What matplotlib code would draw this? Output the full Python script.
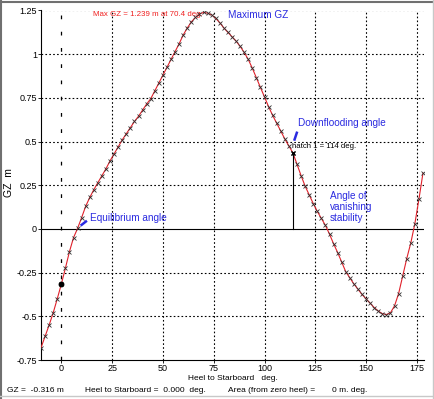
import matplotlib
matplotlib.use("Agg")
import matplotlib.pyplot as plt
from matplotlib.lines import Line2D

plt.rcParams['font.family'] = ['Liberation Sans', 'DejaVu Sans']

# GZ curve (heel in deg, GZ in m)
heel = [-10, -8, -6, -4, -2, 0, 2, 4, 6, 8, 10, 12, 14, 16, 18, 20, 22, 24, 26, 28,
        30, 32, 34, 36, 38, 40, 42, 44, 46, 48, 50, 52, 54, 56, 58, 60, 62, 64, 66, 68,
        70, 72, 74, 76, 78, 80, 82, 84, 86, 88, 90, 92, 94, 96, 98, 100, 102, 104, 106, 108,
        110, 112, 114, 116, 118, 120, 122, 124, 126, 128, 130, 132, 134, 136, 138, 140, 142, 144, 146, 148,
        150, 152, 154, 156, 158, 160, 162, 164, 166, 168, 170, 172, 174, 176, 178]
gz = [-0.68, -0.615, -0.55, -0.48, -0.40, -0.316, -0.225, -0.13, -0.05, 0.003,
      0.065, 0.13, 0.18, 0.225, 0.265, 0.305, 0.345, 0.39, 0.43, 0.47,
      0.51, 0.545, 0.58, 0.615, 0.645, 0.68, 0.715, 0.745, 0.79, 0.835,
      0.88, 0.925, 0.97, 1.015, 1.06, 1.11, 1.15, 1.185, 1.21, 1.23,
      1.239, 1.235, 1.225, 1.205, 1.18, 1.15, 1.125, 1.10, 1.075, 1.045,
      1.01, 0.97, 0.92, 0.865, 0.81, 0.755, 0.70, 0.65, 0.605, 0.56,
      0.515, 0.475, 0.435, 0.37, 0.305, 0.245, 0.195, 0.145, 0.10, 0.06,
      0.02, -0.03, -0.085, -0.135, -0.19, -0.245, -0.28, -0.315, -0.345, -0.375,
      -0.40, -0.425, -0.45, -0.47, -0.485, -0.49, -0.48, -0.44, -0.37, -0.27,
      -0.17, -0.08, 0.03, 0.17, 0.32]

flood_angle = 114
flood_gz = 0.435
eq_heel = 0
eq_gz = -0.316

xticks = [0, 25, 50, 75, 100, 125, 150, 175]
yticks = [-0.75, -0.5, -0.25, 0, 0.25, 0.5, 0.75, 1, 1.25]
ytick_labels = ["-0.75", "-0.5", "-0.25", "0", "0.25", "0.5", "0.75", "1", "1.25"]

W, H = 435, 399
fig = plt.figure(figsize=(W / 100, H / 100), dpi=100)
ax = fig.add_axes([41 / W, 1 - 360 / H, 383 / W, (360 - 10.5) / H])

ax.set_xlim(-10, 178.5)
ax.set_ylim(-0.75, 1.25)

# grid
for xv in xticks[1:]:
    ax.axvline(xv, color='black', lw=0.8, ls=(0, (1.5, 2)), zorder=1)
for yv in yticks[1:]:
    if yv == 0:
        continue
    ax.axhline(yv, color='black', lw=0.8, ls=(0, (1.5, 2)), zorder=1)
ax.axhline(0, color='black', lw=0.8, zorder=2)
ax.axvline(0, color='black', lw=0.9, ls=(0, (3, 10)), zorder=2)

ax.plot(heel, gz, color='#e0202a', lw=0.8, zorder=3)
ax.plot(heel, gz, ls='none', marker='x', ms=3, mew=0.6, color='#303030', zorder=4)

ax.plot([flood_angle, flood_angle], [0, flood_gz], color='black', lw=0.8, zorder=3)
ax.plot([flood_angle], [flood_gz], marker='x', ms=3.5, mew=1.0, color='black', zorder=5)
ax.plot([eq_heel], [eq_gz], marker='o', ms=3.2, color='black', zorder=5)

for s in ['top', 'right']:
    ax.spines[s].set_visible(False)
for s in ['left', 'bottom']:
    ax.spines[s].set_linewidth(0.8)

ax.set_xticks(xticks)
ax.set_yticks(yticks)
ax.set_yticklabels(ytick_labels)
ax.tick_params(labelsize=6.5, length=2, width=0.6, pad=1)

ax.set_xlabel("Heel to Starboard   deg.", fontsize=6, labelpad=1)
ax.set_ylabel("GZ  m", fontsize=7.5)
ax.yaxis.set_label_coords((14 - 41) / 383, (360 - 183) / 349.5)

blue = '#2a2ae0'
ax.text(42.5, 1.226, "Max GZ = 1.239 m at 70.4 deg.", color='#f02020', fontsize=5.7,
        ha='center', va='center')
ax.text(82, 1.226, "Maximum GZ", color=blue, fontsize=7.2, ha='left', va='center')
ax.text(116.3, 0.605, "Downflooding angle", color=blue, fontsize=7.2, ha='left', va='center')
ax.plot([116.1, 114.6], [0.557, 0.505], color=blue, lw=1.8, solid_capstyle='butt')
ax.text(113.3, 0.471, "hatch 1 = 114 deg.", color='black', fontsize=5.6, ha='left', va='center')
ax.text(14, 0.062, "Equilibrium angle", color=blue, fontsize=7.2, ha='left', va='center')
ax.plot([12.6, 9.5], [0.047, 0.019], color=blue, lw=1.8, solid_capstyle='butt')
ax.text(132.3, 0.127, "Angle of\nvanishing\nstability", color=blue, fontsize=7.2,
        ha='left', va='center', linespacing=1.1)

# status line under the plot
fig.text(7 / W, 1 - 390 / H, "GZ =  -0.316 m", fontsize=6, ha='left', va='center')
fig.text(85 / W, 1 - 390 / H, "Heel to Starboard =  0.000  deg.", fontsize=6, ha='left', va='center')
fig.text(228 / W, 1 - 390 / H, "Area (from zero heel) =", fontsize=6, ha='left', va='center')
fig.text(332 / W, 1 - 390 / H, "0 m. deg.", fontsize=6, ha='left', va='center')

# panel border
fig.add_artist(Line2D([0, 1], [1 - 1.5 / H] * 2, color='#707070', lw=1.5))
fig.add_artist(Line2D([1.5 / W] * 2, [0, 1], color='#707070', lw=1.5))
fig.add_artist(Line2D([433.5 / W] * 2, [0, 1], color='#c8c8c8', lw=1.0))
fig.add_artist(Line2D([0, 1], [1 - 395.5 / H] * 2, color='#c8c8c8', lw=1.0))

fig.savefig("out.png", dpi=100)
